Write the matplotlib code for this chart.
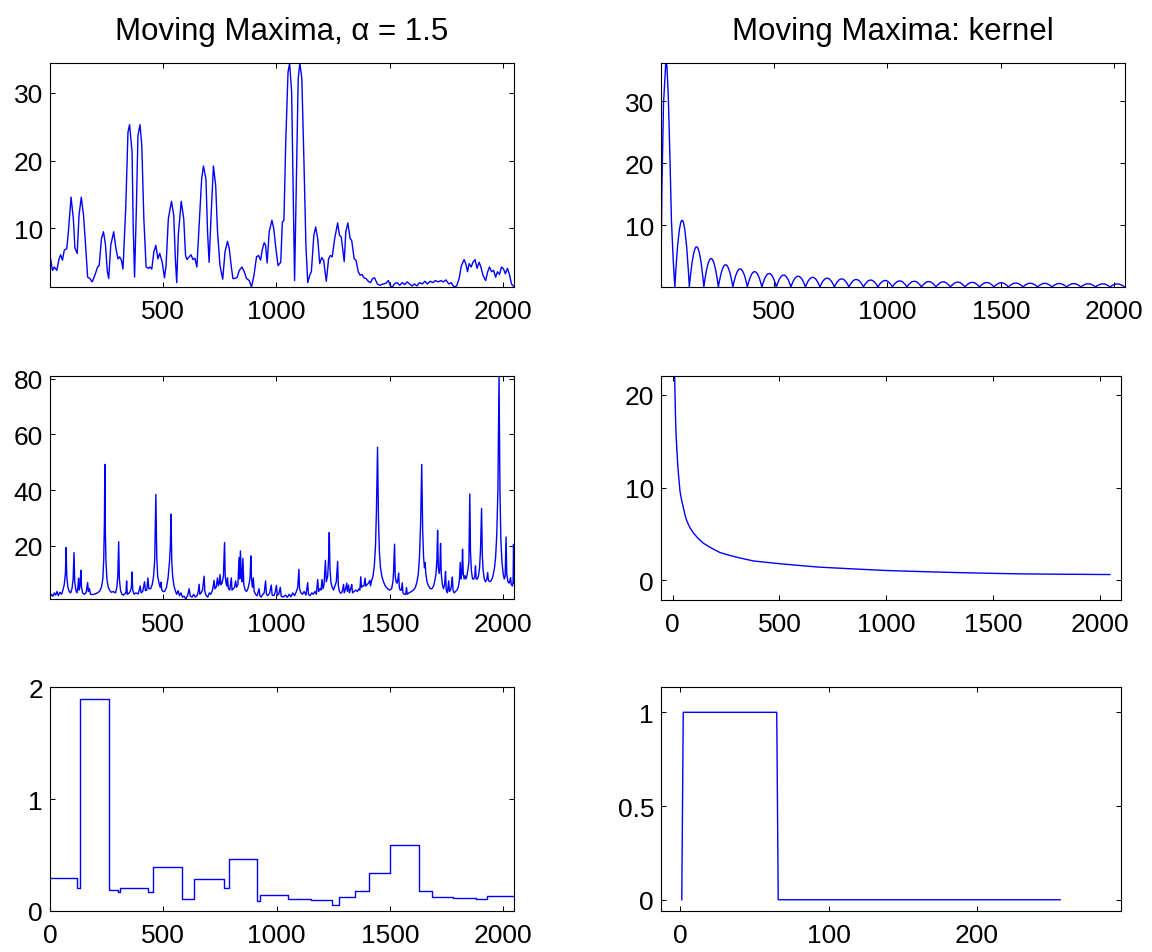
import matplotlib
matplotlib.use("Agg")
import matplotlib.pyplot as plt
from matplotlib.path import Path
from matplotlib.patches import PathPatch
import numpy as np

plt.rcParams['font.family'] = ['Liberation Sans', 'DejaVu Sans']

BLUE = '#0000ff'

# ---------------- data ----------------
# top-left: moving maxima signal
tl_x = [1, 12, 20, 31, 41, 48, 56, 64, 75, 82, 94, 104, 111, 121, 129, 139, 149, 158, 167, 177, 187, 199, 211, 218,
        228, 237, 246, 254, 260, 269, 282, 292, 301, 308, 316, 323, 335, 345, 352, 363, 368, 374, 382, 389, 398, 406,
        415, 425, 436, 442, 450, 459, 468, 477, 485, 496, 506, 513, 523, 537, 547, 554, 560, 567, 580, 591, 599, 605,
        615, 623, 632, 640, 649, 659, 670, 678, 689, 696, 703, 711, 722, 732, 740, 751, 763, 773, 784, 792, 801, 808,
        817, 827, 836, 848, 858, 868, 880, 890, 901, 912, 921, 930, 937, 946, 952, 959, 968, 980, 988, 996, 1007,
        1019, 1026, 1033, 1041, 1051, 1058, 1067, 1074, 1080, 1087, 1096, 1103, 1112, 1121, 1130, 1138, 1147, 1154,
        1165, 1173, 1182, 1191, 1200, 1208, 1220, 1230, 1238, 1246, 1257, 1270, 1278, 1286, 1299, 1306, 1315, 1325,
        1332, 1343, 1351, 1361, 1369, 1378, 1386, 1395, 1405, 1415, 1424, 1433, 1445, 1456, 1471, 1483, 1494, 1503,
        1512, 1520, 1532, 1544, 1555, 1566, 1576, 1587, 1599, 1609, 1620, 1631, 1643, 1655, 1666, 1678, 1690, 1701,
        1713, 1725, 1736, 1748, 1760, 1771, 1783, 1795, 1806, 1816, 1828, 1835, 1843, 1850, 1859, 1867, 1876, 1885,
        1894, 1902, 1911, 1923, 1932, 1940, 1949, 1958, 1967, 1975, 1984, 1993, 2002, 2010, 2019, 2028, 2037, 2048]
tl_y = [6.0, 3.8, 4.3, 3.8, 5.5, 6.1, 5.3, 6.8, 7.0, 9.5, 14.6, 11.4, 7.1, 6.3, 11.9, 14.6, 11.9, 7.5, 2.8, 2.6, 2.1,
        3.1, 4.3, 4.5, 8.5, 9.5, 7.5, 3.6, 2.6, 7.5, 9.5, 7.0, 5.5, 5.8, 5.3, 4.0, 12.9, 24.2, 25.3, 21.3, 10.4, 2.8,
        12.9, 23.7, 25.3, 22.2, 11.4, 4.3, 4.1, 4.3, 4.0, 6.5, 7.5, 5.5, 6.3, 5.0, 2.7, 4.5, 11.4, 14.0, 11.9, 5.5,
        2.0, 9.0, 14.0, 11.4, 6.0, 5.4, 5.8, 6.1, 5.4, 5.6, 4.3, 10.4, 17.3, 19.2, 17.3, 9.5, 5.0, 11.4, 19.2, 16.3,
        9.5, 4.5, 2.5, 6.5, 8.1, 7.0, 4.3, 2.6, 2.6, 2.8, 3.8, 4.3, 3.6, 2.6, 2.3, 1.35, 3.1, 5.8, 6.0, 5.3, 6.8, 7.9,
        7.5, 4.9, 9.5, 11.2, 10.0, 7.5, 4.5,
        5.0, 10.9, 11.2, 22.7, 33.0, 34.4, 30.1, 15.4, 2.3, 15.4, 32.1, 34.4, 32.1, 20.3, 7.5, 2.0, 3.1, 3.6, 9.0,
        10.2, 8.5, 4.8, 5.7, 5.3, 2.2, 5.5, 6.0, 5.8, 8.5, 10.8, 9.0, 8.7, 5.1, 9.5, 10.8, 8.5, 8.2, 5.5, 5.3, 3.6,
        3.1, 3.2, 2.7, 2.6, 2.2, 2.0, 2.6, 2.7, 1.8, 1.6, 1.8, 1.9, 2.3, 1.5, 1.35, 1.8, 2.0, 1.6, 2.0, 1.7, 2.1, 1.8,
        1.5, 1.8, 1.5, 2.0, 1.8, 2.2, 1.8, 2.2, 2.0, 2.3, 2.1, 2.3, 2.1, 2.4, 1.8, 2.0, 1.35, 1.5, 2.6, 4.5, 5.4, 4.8,
        3.6, 4.8, 4.3, 5.0, 5.4, 4.1, 5.0, 4.3, 3.1, 2.3, 3.6, 4.3, 3.6, 3.8, 2.8, 3.6, 3.2, 4.3, 4.0, 3.3, 4.1, 3.2,
        1.8, 1.35]

# top-right: kernel (main lobe traced, side lobes by zero crossings and peak heights)
tr_main_x = [1, 5, 12, 22, 27, 33, 40, 47, 55, 62]
tr_main_y = [2.5, 16.0, 29.6, 36.2, 35.8, 31.0, 21.6, 10.8, 4.3, 0.0]
tr_zero_x = [62, 126, 190, 254, 318, 382, 446, 510, 574, 638, 702, 766, 830, 894, 958, 1022, 1086, 1150, 1214,
             1278, 1342, 1406, 1470, 1534, 1598, 1662, 1726, 1790, 1854, 1918, 1982, 2046]
tr_peak_y = [10.8, 6.5, 4.6, 3.6, 2.95, 2.5, 2.2, 1.94, 1.75, 1.57, 1.43, 1.32, 1.22, 1.13, 1.06, 0.99, 0.93, 0.88,
             0.83, 0.79, 0.75, 0.72, 0.69, 0.66, 0.63, 0.61, 0.58, 0.56, 0.54, 0.52, 0.51]

# middle-left: spiky signal
ml_pts = [
    (1, 1.5), (8, 2.5), (14, 1.8), (20, 3.0), (26, 2.2), (32, 3.5), (38, 2.0), (45, 3.2), (52, 2.5), (58, 4.0),
    (64, 6.0), (69, 10), (72, 19.3), (75, 9), (80, 5), (86, 3.5), (92, 3.0), (98, 4.5), (103, 8), (107, 17.5),
    (110, 7), (115, 4), (120, 3.0), (124, 5), (127, 8.3), (130, 4), (134, 6), (137, 11.1), (140, 5), (145, 3),
    (152, 2.5), (160, 3), (167, 6.7), (170, 3.5), (175, 4.5), (180, 2.5), (190, 2.4), (200, 2.6), (210, 3.0),
    (220, 3.6), (228, 5), (234, 8), (238, 15), (241, 28), (243, 49.2), (245, 26), (248, 14), (252, 8), (258, 5),
    (265, 3.8), (272, 3.2), (280, 3.5), (290, 3.0), (296, 5), (300, 9), (304, 21.4), (307, 8), (312, 4), (318, 2.5),
    (325, 2.2), (332, 2.8), (336, 3), (339, 7.3), (342, 2.5), (348, 2.8), (355, 3.5), (360, 5), (363, 10.5),
    (366, 4), (372, 2.5), (380, 3), (390, 2.6), (399, 5.5), (403, 3), (410, 3.5), (418, 7), (422, 3.8), (428, 4),
    (433, 8.4), (437, 4.5), (445, 4.5), (452, 6), (458, 9), (463, 15), (468, 38.4), (472, 16), (476, 9), (482, 6.5),
    (487, 5), (491, 6.8), (494, 4), (500, 3.5), (507, 3.5), (515, 5), (522, 8.5), (528, 14), (532, 20), (535, 31.3),
    (538, 15), (542, 9), (548, 5.5), (555, 3.5), (560, 2.5), (566, 3.8), (572, 2), (579, 3.0), (585, 1.5),
    (592, 1.8), (600, 0.8), (608, 2.0), (615, 4.5), (620, 1.8), (628, 1.5), (635, 2.5), (642, 1.5), (650, 2.0),
    (655, 3.5), (659, 6.1), (662, 2.5), (668, 3.0), (674, 4.0), (681, 9.0), (684, 3.5), (690, 2.0), (697, 1.5),
    (704, 3.0), (710, 2.5), (718, 4.0), (725, 7.5), (728, 4.5), (734, 5.0), (740, 8.4), (744, 5.5), (748, 6.5),
    (751, 9.6), (755, 6), (760, 6.5), (766, 9), (771, 21.1), (774, 9), (778, 6.5), (781, 5.5), (784, 8.4),
    (788, 4.5), (794, 4.0), (801, 8.4), (804, 4.0), (810, 4.5), (815, 5), (820, 7.3), (824, 5), (830, 6),
    (835, 15.7), (838, 8), (841, 18.1), (845, 9), (848, 7), (852, 15.4), (856, 6), (862, 4), (868, 3.5), (874, 4.5),
    (880, 6.5), (884, 9), (887, 16.3), (890, 8), (894, 5), (898, 8.4), (902, 3.5), (908, 2.5), (915, 2.0),
    (923, 4.5), (927, 2.0), (933, 1.5), (940, 2.5), (946, 3.0), (952, 7.3), (956, 2.5), (962, 2.0), (970, 3.0),
    (977, 5.8), (981, 2.2), (988, 2.0), (994, 3.0), (1000, 5.7), (1004, 2.2), (1010, 2.5), (1017, 5.0), (1021, 1.8),
    (1030, 1.5), (1040, 2.2), (1048, 1.4), (1056, 2.5), (1064, 1.6), (1072, 3.0), (1080, 2.0), (1088, 3.5),
    (1094, 5), (1099, 11.5), (1102, 4.5), (1108, 3), (1115, 2.5), (1122, 3.5), (1130, 2.2), (1138, 6.7), (1141, 2.5),
    (1148, 2.0), (1156, 3.0), (1162, 2.5), (1170, 3.5), (1176, 2.5), (1182, 7.8), (1186, 3.5), (1192, 4.5),
    (1197, 4), (1201, 7.8), (1205, 4.5), (1210, 6), (1216, 14.7), (1220, 7), (1226, 9), (1230, 15), (1233, 24.7),
    (1236, 12), (1240, 7), (1246, 5), (1252, 4), (1258, 5.5), (1264, 7), (1270, 14.3), (1273, 5.5), (1278, 3.5),
    (1284, 2.8), (1290, 3.5), (1296, 6.0), (1299, 3.0), (1305, 4.5), (1310, 6.5), (1313, 3.5), (1318, 5.8),
    (1322, 3.0), (1328, 4.5), (1332, 6.0), (1336, 3.0), (1342, 3.5), (1350, 4.0), (1357, 3.5), (1364, 4.5),
    (1368, 4.0), (1372, 8.8), (1375, 5), (1380, 5.5), (1386, 5.5), (1391, 8.3), (1394, 5.5), (1400, 6), (1406, 6.5),
    (1412, 7.5), (1415, 5.5), (1420, 7.5), (1426, 9), (1432, 13), (1437, 20), (1441, 32), (1446, 55.4), (1450, 30),
    (1454, 18), (1459, 12), (1465, 9), (1472, 7), (1480, 5.5), (1490, 4.5), (1500, 4), (1508, 4.5), (1514, 7),
    (1517, 11), (1521, 20.5), (1524, 9), (1528, 7), (1532, 6.5), (1536, 8), (1539, 10.1), (1542, 5), (1546, 4),
    (1551, 4), (1555, 6.6), (1558, 3.0), (1564, 2.5), (1570, 2.5), (1574, 4.9), (1577, 2.5), (1585, 3.0),
    (1595, 3.5), (1605, 4.0), (1613, 5), (1620, 7), (1626, 10), (1631, 16), (1636, 28), (1641, 49.2), (1645, 26),
    (1649, 16), (1653, 12), (1656, 13.9), (1659, 10), (1664, 7), (1671, 5.5), (1679, 4.5), (1686, 4.5), (1693, 5.5),
    (1699, 7.5), (1704, 10), (1708, 15), (1711, 25.5), (1714, 12), (1718, 10), (1721, 12), (1724, 20.8), (1727, 10),
    (1732, 6), (1737, 4.5), (1742, 6), (1746, 10.7), (1749, 4), (1754, 3.0), (1760, 7.3), (1763, 3.5), (1768, 4.0),
    (1772, 5.5), (1776, 8.7), (1779, 4.0), (1784, 3.0), (1790, 3.5), (1796, 4.0), (1802, 5.0), (1807, 7.5),
    (1811, 13.9), (1814, 8), (1818, 10), (1821, 18.7), (1824, 10), (1828, 8), (1832, 9.2), (1836, 8), (1840, 9),
    (1845, 11.5), (1849, 14), (1853, 38.6), (1856, 18), (1860, 11), (1865, 8), (1871, 8), (1875, 9), (1878, 12.7),
    (1881, 8), (1886, 8), (1891, 9), (1896, 12), (1900, 18), (1905, 33.4), (1908, 17), (1912, 11), (1917, 8),
    (1922, 7), (1928, 8), (1932, 10.3), (1935, 7.5), (1941, 7), (1948, 7.5), (1955, 9), (1962, 12), (1967, 16),
    (1972, 24), (1977, 40), (1982, 81.0), (1986, 40), (1990, 22), (1995, 14), (2000, 10), (2005, 8), (2009, 9),
    (2013, 23.1), (2016, 10), (2021, 7), (2027, 6.5), (2033, 8.5), (2036, 6.0), (2041, 5.5), (2044, 7),
    (2046, 20.5), (2048, 6.5)]
ml_x = [p[0] for p in ml_pts]
ml_y = [p[1] for p in ml_pts]

# middle-right: decaying kernel
mr_x = [9, 12, 15, 19, 23, 27, 34, 42, 50, 58, 66, 80, 97, 120, 144, 180, 222, 260, 300, 378, 440, 503, 600, 691,
        850, 1003, 1160, 1316, 1470, 1628, 1840, 2048]
mr_y = [22.0, 18.5, 16.0, 14.2, 12.6, 11.4, 9.6, 8.6, 7.8, 7.0, 6.4, 5.7, 5.1, 4.5, 4.0, 3.5, 3.0, 2.75, 2.5, 2.1,
        1.95, 1.8, 1.6, 1.43, 1.24, 1.07, 0.96, 0.86, 0.78, 0.71, 0.67, 0.64]

# bottom-left: piecewise constant signal (step starts and levels)
bl_x = [0, 121, 132, 260, 299, 309, 431, 456, 581, 637, 766, 788, 915, 926, 1051, 1151, 1244, 1276, 1346, 1407,
        1500, 1628, 1684, 1779, 1879, 1929, 2048]
bl_y = [0.294, 0.205, 1.889, 0.190, 0.166, 0.205, 0.169, 0.391, 0.110, 0.282, 0.205, 0.463, 0.092, 0.140, 0.107,
        0.101, 0.05, 0.128, 0.176, 0.338, 0.593, 0.179, 0.125, 0.113, 0.104, 0.137, 0.137]

# bottom-right: box kernel
br_x = [1, 2, 65, 66, 256]
br_y = [0, 1, 1, 0, 0]

titles = ['Moving Maxima, \u03b1 = 1.5', 'Moving Maxima: kernel']

# ---------------- figure ----------------
W, H = 1152, 953
fig = plt.figure(figsize=(W / 100, H / 100), dpi=100)


def add_ax(l, t, r, b):
    return fig.add_axes([l / W, 1 - b / H, (r - l) / W, (b - t) / H])


axs = [add_ax(50, 64, 514, 288), add_ax(661, 64, 1125, 288),
       add_ax(50, 377, 514, 600), add_ax(661, 377, 1121, 601),
       add_ax(50, 688, 514, 912), add_ax(661, 688, 1121, 912)]

for ax in axs:
    ax.tick_params(direction='in', length=3.6, width=0.75, top=True, right=True,
                   labelsize=19, colors='black')
    ax.tick_params(axis='x', pad=9)
    ax.tick_params(axis='y', pad=5)
    for s in ax.spines.values():
        s.set_linewidth(0.8)

ax1, ax2, ax3, ax4, ax5, ax6 = axs

ax1.plot(tl_x, tl_y, color=BLUE, lw=1.0)
ax1.set_xlim(1, 2048)
ax1.set_ylim(min(tl_y), max(tl_y))
ax1.set_xticks([500, 1000, 1500, 2000])
ax1.set_yticks([10, 20, 30])
ax1.set_title(titles[0], fontsize=22.5, pad=17)

# kernel: main lobe polyline, side lobes as smooth arcs
verts = list(zip(tr_main_x, tr_main_y))
codes = [Path.MOVETO] + [Path.LINETO] * (len(verts) - 1)
for z0, z1, p in zip(tr_zero_x[:-1], tr_zero_x[1:], tr_peak_y):
    verts += [((z0 + z1) / 2, 2 * p), (z1, 0.0)]
    codes += [Path.CURVE3, Path.CURVE3]
ax2.add_patch(PathPatch(Path(verts, codes), fill=False, edgecolor=BLUE, lw=1.0))
ax2.set_xlim(1, 2048)
ax2.set_ylim(0, max(tr_main_y))
ax2.set_xticks([500, 1000, 1500, 2000])
ax2.set_yticks([10, 20, 30])
ax2.set_title(titles[1], fontsize=22.5, pad=17)

ax3.plot(ml_x, ml_y, color=BLUE, lw=1.0)
ax3.set_xlim(1, 2048)
ax3.set_ylim(min(ml_y), max(ml_y))
ax3.set_xticks([500, 1000, 1500, 2000])
ax3.set_yticks([20, 40, 60, 80])

ax4.plot(mr_x, mr_y, color=BLUE, lw=1.0)
ax4.set_xlim(-55, 2100)
ax4.set_ylim(-2.1, 22)
ax4.set_xticks([0, 500, 1000, 1500, 2000])
ax4.set_yticks([0, 10, 20])

ax5.step(bl_x, bl_y, where='post', color=BLUE, lw=1.0)
ax5.set_xlim(0, 2048)
ax5.set_ylim(0, 2)
ax5.set_xticks([0, 500, 1000, 1500, 2000])
ax5.set_yticks([0, 1, 2])

ax6.plot(br_x, br_y, color=BLUE, lw=1.0)
ax6.set_xlim(-13, 297)
ax6.set_ylim(-0.06, 1.135)
ax6.set_xticks([0, 100, 200])
ax6.set_yticks([0, 0.5, 1])
ax6.set_yticklabels(['0', '0.5', '1'])

fig.savefig('out.png', dpi=100)
